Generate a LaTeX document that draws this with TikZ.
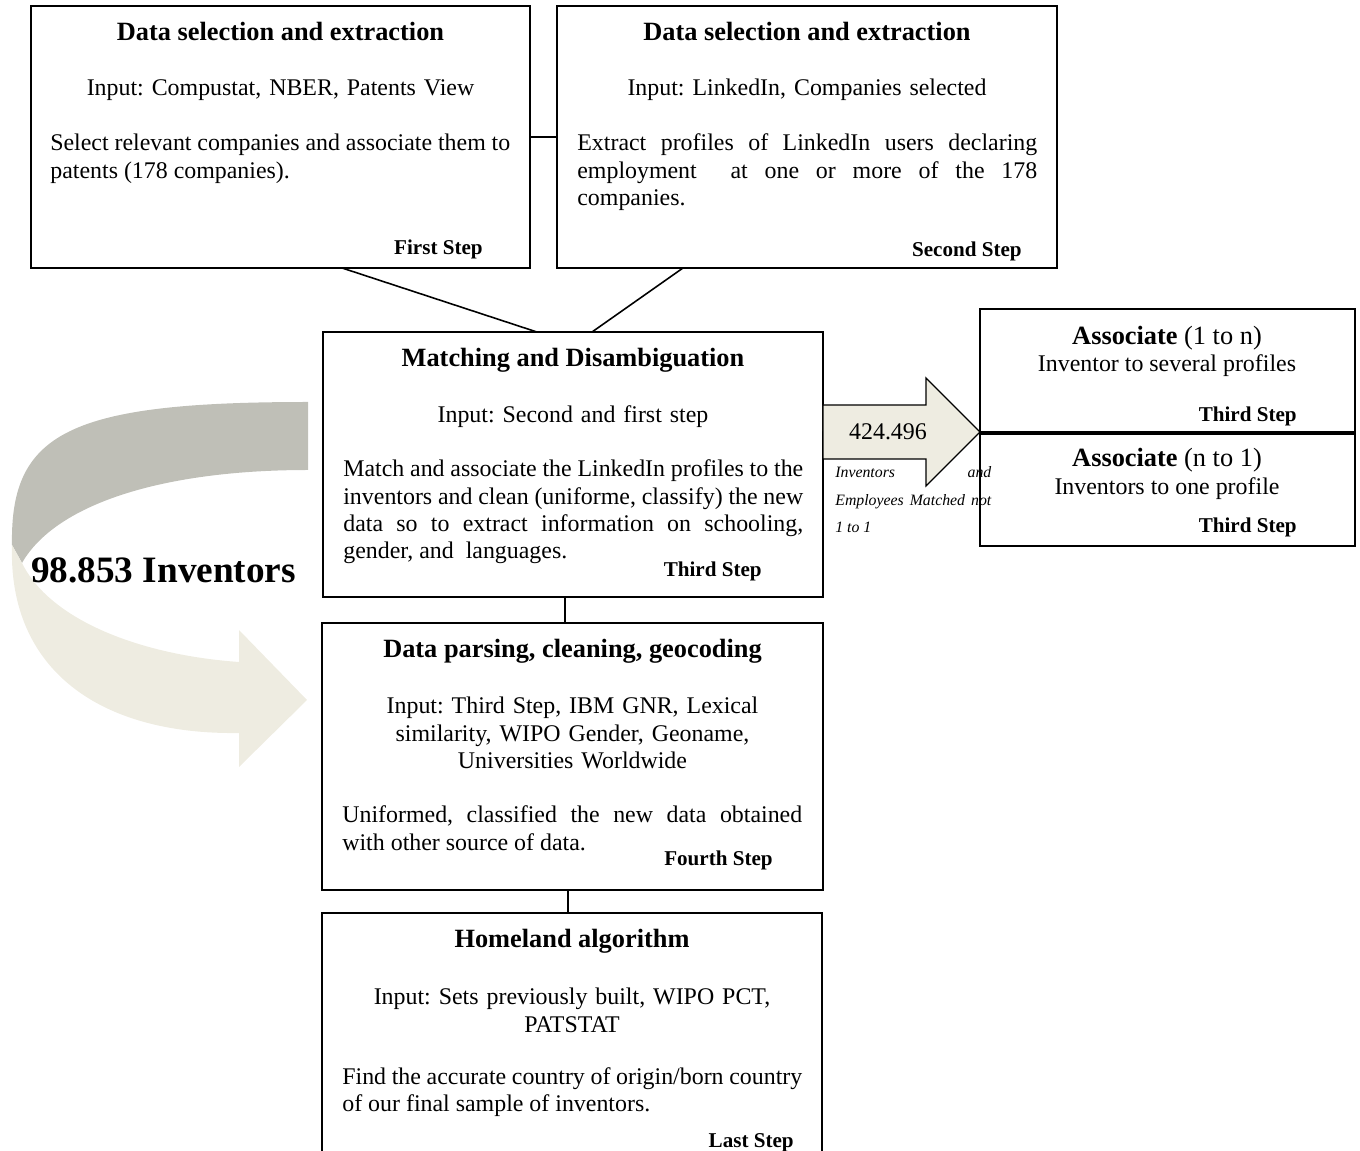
\documentclass[tikz,border=0pt]{standalone}
\usepackage{fontspec}
\setmainfont{Liberation Serif}
\frenchspacing
\definecolor{ribbongray}{RGB}{191,191,183}
\definecolor{ribbonbeige}{RGB}{238,236,225}
\tikzset{
  stepbox/.style={draw, line width=0.7pt, inner sep=0pt, outer sep=0pt},
  link/.style={line width=0.9pt},
  boxtitle/.style={anchor=base, inner sep=0pt, font=\fontsize{15}{18}\selectfont\bfseries},
  boxinput/.style={anchor=base, inner sep=0pt, text width=9.2cm, align=center, font=\fontsize{13.6}{15.5}\selectfont},
  boxtext/.style={anchor=base west, inner sep=0pt, text width=9.2cm, align=justify, font=\fontsize{13.6}{15.5}\selectfont},
  steplabel/.style={anchor=base east, inner sep=0pt, font=\fontsize{12}{14}\selectfont\bfseries},
  assoctitle/.style={anchor=base, inner sep=0pt, font=\fontsize{15}{18}\selectfont},
  assocline/.style={anchor=base, inner sep=0pt, font=\fontsize{13.6}{15.5}\selectfont},
}
\begin{document}
\begin{tikzpicture}[x=0.02cm, y=-0.02cm]
\useasboundingbox (0,0) rectangle (1360,1151);

\fill[ribbongray] (308,402) .. controls (70,402) and (10,432) .. (12,545) -- (22,563) .. controls (55,505) and (160,470) .. (308,470) -- cycle;
\fill[ribbonbeige] (12,545) .. controls (8,670) and (100,735) .. (239,733) -- (239,767) -- (307,700) -- (239,630) -- (239,662) .. controls (140,655) and (50,620) .. (22,563) -- cycle;
\node[anchor=base, inner sep=0pt, font=\fontsize{21.2}{25}\selectfont\bfseries] (total) at (163.5,583) {98.853 Inventors};

\node[stepbox, minimum width=9.98cm, minimum height=5.24cm] (b1) at (280.5,137) {};
\node[boxtitle] (t1) at (280.5,41) {Data selection and extraction};
\node[boxinput] (i1) at (280.5,96) {Input: Compustat, NBER, Patents View};
\node[boxtext] (p1) at (50,151) {Select relevant companies and associate them to\linebreak patents (178 companies).};
\node[steplabel] (s1) at (483,255) {First Step};

\node[stepbox, minimum width=10cm, minimum height=5.24cm] (b2) at (807,137) {};
\node[boxtitle] (t2) at (807,41) {Data selection and extraction};
\node[boxinput] (i2) at (807,96) {Input: LinkedIn, Companies selected};
\node[boxtext] (p2) at (577,151) {Extract profiles of LinkedIn users declaring\linebreak employment\ \ at one or more of the 178\linebreak companies.};
\node[steplabel] (s2) at (1022,257) {Second Step};

\node[stepbox, minimum width=10cm, minimum height=5.3cm] (b3) at (573,464.5) {};
\node[boxtitle] (t3) at (573,367) {Matching and Disambiguation};
\node[boxinput] (i3) at (573,423) {Input: Second and first step};
\node[boxtext] (p3) at (343,477) {Match and associate the LinkedIn profiles to the\linebreak inventors and clean (uniforme, classify) the new\linebreak data so to extract information on schooling,\linebreak gender, and\ \ languages.};
\node[steplabel] (s3) at (762,577) {Third Step};

\node[stepbox, minimum width=10.02cm, minimum height=5.34cm] (b4) at (572.5,756.5) {};
\node[boxtitle] (t4) at (572.5,658) {Data parsing, cleaning, geocoding};
\node[boxinput] (i4) at (572.5,714) {Input: Third Step, IBM GNR, Lexical\\ similarity, WIPO Gender, Geoname,\\ Universities Worldwide};
\node[boxtext] (p4) at (342,823) {Uniformed, classified the new data obtained\linebreak with other source of data.};
\node[steplabel] (s4) at (773,866) {Fourth Step};

\node[stepbox, minimum width=10cm, minimum height=5.04cm] (b5) at (572,1039) {};
\node[boxtitle] (t5) at (572,948) {Homeland algorithm};
\node[boxinput] (i5) at (572,1005) {Input: Sets previously built, WIPO PCT,\\ PATSTAT};
\node[boxtext] (p5) at (342,1084) {Find the accurate country of origin/born country\linebreak of our final sample of inventors.};
\node[steplabel] (s5) at (794,1147) {Last Step};

\node[stepbox, minimum width=7.5cm, minimum height=2.46cm] (a1) at (1167.5,370.5) {};
\node[assoctitle] (at1) at (1167,345) {\textbf{Associate} (1 to n)};
\node[assocline] (al1) at (1167,372) {Inventor to several profiles};
\node[steplabel] (as1) at (1297,422) {Third Step};

\node[stepbox, minimum width=7.5cm, minimum height=2.24cm] (a2) at (1167.5,490) {};
\node[assoctitle] (at2) at (1167,467) {\textbf{Associate} (n to 1)};
\node[assocline] (al2) at (1167,495) {Inventors to one profile};
\node[steplabel] (as2) at (1297,533) {Third Step};

\draw[line width=0.7pt, fill=ribbonbeige] (b3.east |- a1.south) ++(0,-27) -- ++(103,0) -- ++(0,-27) -- (a1.south west) -- ++(-54,54) -- ++(0,-27) -- ++(-103,0) -- cycle;
\node[assocline] (count) at (888,440) {424.496};
\node[anchor=base west, inner sep=0pt, text width=3.12cm, align=justify, font=\fontsize{9}{15.6}\selectfont\itshape] (note) at (835,478) {Inventors and\linebreak Employees Matched not\linebreak 1 to 1};

\draw[link] (b1.east) -- (b2.west);
\draw[link] ([xshift=1.23cm]b1.south) -- ([xshift=-0.72cm]b3.north);
\draw[link] ([xshift=-2.48cm]b2.south) -- ([xshift=0.38cm]b3.north);
\draw[link] ([xshift=-0.16cm]b3.south) -- ([xshift=-0.15cm]b4.north);
\draw[link] ([xshift=-0.09cm]b4.south) -- ([xshift=-0.08cm]b5.north);

\end{tikzpicture}
\end{document}
